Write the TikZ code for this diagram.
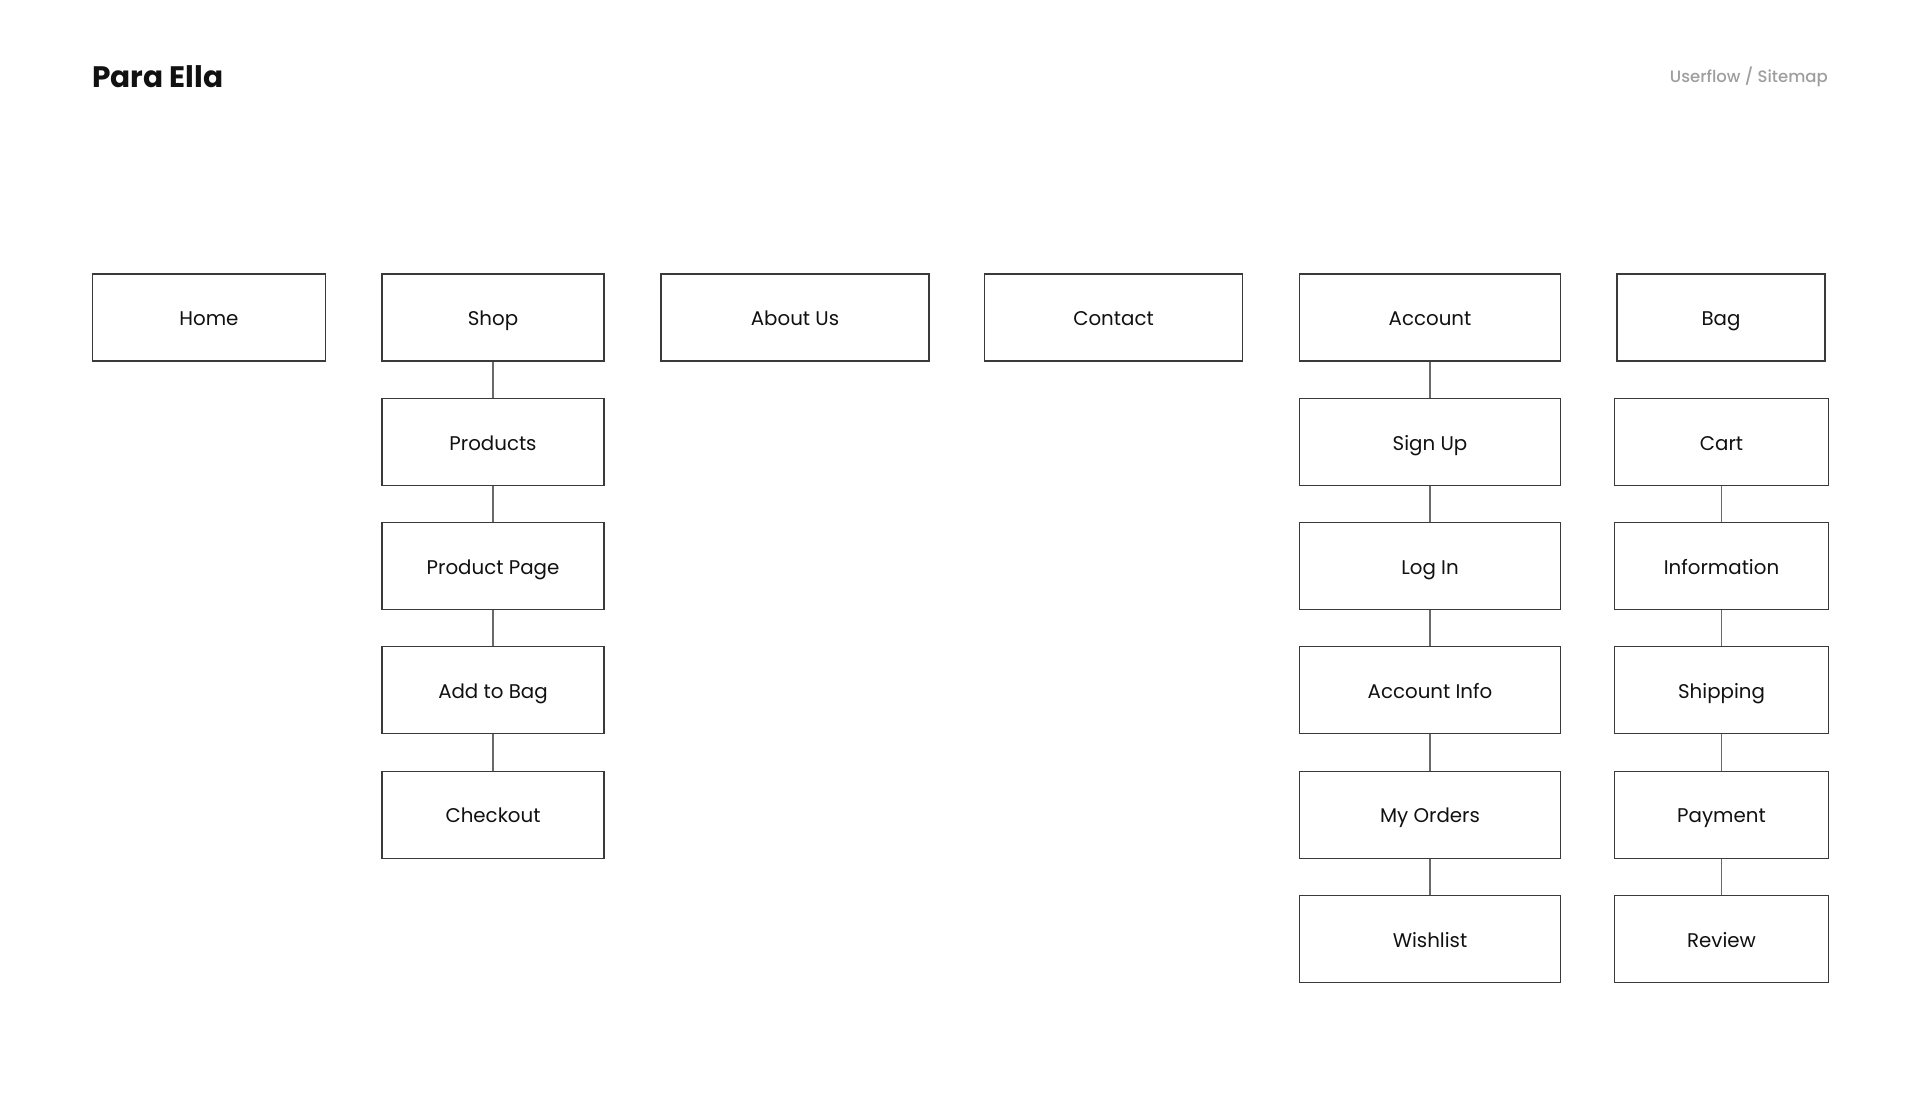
\documentclass[tikz,border=0pt]{standalone}
\usepackage{fontspec}
\setmainfont{Poppins}
\newfontfamily\popbold{Poppins}[UprightFont=* Bold]
\newfontfamily\popmed{Poppins}[UprightFont=* Medium]
\definecolor{boxline}{HTML}{3A3A3A}
\definecolor{conline}{HTML}{6A6A6A}
\definecolor{subgray}{HTML}{9E9E9E}
\definecolor{txt}{HTML}{111111}
\tikzset{
  pagebox/.style={draw=boxline, line width=1.1pt, fill=white, inner sep=0pt,
    minimum height=87pt, text=txt, font=\fontsize{19.8}{24}\selectfont,
    text height=16.5pt, text depth=0pt, align=center},
  link/.style={draw=conline, line width=1.1pt}
}
\begin{document}
\begin{tikzpicture}[x=1pt,y=-1pt]
\useasboundingbox[fill=white] (0,0) rectangle (1920,1099);
% header
\node[anchor=base west, inner sep=0pt, text=txt, font=\popbold\fontsize{29.6}{34}\selectfont] (title) at (92,88) {Para Ella};
\node[anchor=base east, inner sep=0pt, text=subgray, font=\popmed\fontsize{16.5}{20}\selectfont] (sub) at (1828,82.5) {Userflow / Sitemap};
% row 1
\node[pagebox, minimum width=233pt] (home) at (209,317.5) {Home};
\node[pagebox, minimum width=222pt] (shop) at (493,317.5) {Shop};
\node[pagebox, minimum width=268pt] (about) at (795,317.5) {About Us};
\node[pagebox, minimum width=258pt] (contact) at (1113.5,317.5) {Contact};
\node[pagebox, minimum width=261pt] (account) at (1430,317.5) {Account};
\node[pagebox, minimum width=208pt] (bag) at (1721,317.5) {Bag};
% shop column
\node[pagebox, minimum width=222pt] (products) at (493,441.8) {Products};
\node[pagebox, minimum width=222pt] (ppage) at (493,566.1) {Product Page};
\node[pagebox, minimum width=222pt] (addbag) at (493,690.4) {Add to Bag};
\node[pagebox, minimum width=222pt] (checkout) at (493,814.7) {Checkout};
% account column
\node[pagebox, minimum width=261pt] (signup) at (1430,441.8) {Sign Up};
\node[pagebox, minimum width=261pt] (login) at (1430,566.1) {Log In};
\node[pagebox, minimum width=261pt] (accinfo) at (1430,690.4) {Account Info};
\node[pagebox, minimum width=261pt] (orders) at (1430,814.7) {My Orders};
\node[pagebox, minimum width=261pt] (wish) at (1430,939) {Wishlist};
% bag column
\node[pagebox, minimum width=214pt] (cart) at (1721.5,441.8) {Cart};
\node[pagebox, minimum width=214pt] (info) at (1721.5,566.1) {Information};
\node[pagebox, minimum width=214pt] (ship) at (1721.5,690.4) {Shipping};
\node[pagebox, minimum width=214pt] (pay) at (1721.5,814.7) {Payment};
\node[pagebox, minimum width=214pt] (review) at (1721.5,939) {Review};
% connectors
\draw[link] (shop) -- (products);
\draw[link] (products) -- (ppage);
\draw[link] (ppage) -- (addbag);
\draw[link] (addbag) -- (checkout);
\draw[link] (account) -- (signup);
\draw[link] (signup) -- (login);
\draw[link] (login) -- (accinfo);
\draw[link] (accinfo) -- (orders);
\draw[link] (orders) -- (wish);
\draw[link] (cart) -- (info);
\draw[link] (info) -- (ship);
\draw[link] (ship) -- (pay);
\draw[link] (pay) -- (review);
\end{tikzpicture}
\end{document}
